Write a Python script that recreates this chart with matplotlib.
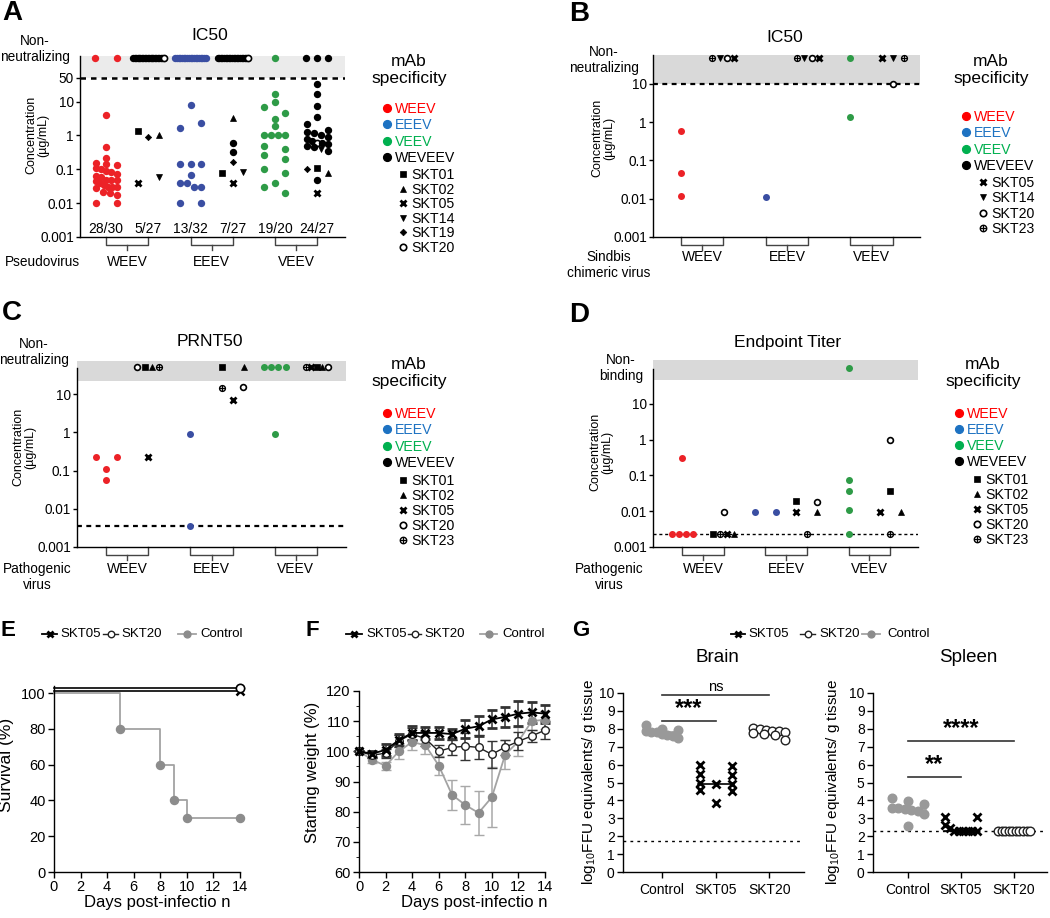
import numpy as np
import matplotlib
matplotlib.use("Agg")
import matplotlib.pyplot as plt
import matplotlib.transforms as mtransforms
from matplotlib.ticker import NullLocator, MultipleLocator

plt.rcParams['font.family'] = ['Liberation Sans', 'DejaVu Sans']
plt.rcParams['mathtext.fontset'] = 'custom'
plt.rcParams['mathtext.rm'] = 'Liberation Sans'
plt.rcParams['mathtext.it'] = 'Liberation Sans:italic'
plt.rcParams['axes.linewidth'] = 1.0
plt.rcParams['xtick.major.width'] = 1.0
plt.rcParams['ytick.major.width'] = 1.0

# ---------------- data ----------------
# concentration panels: 6 columns = WEEV-specific, WEVEEV on WEEV, EEEV-specific,
# WEVEEV on EEEV, VEEV-specific, WEVEEV on VEEV
GROUPS = ['WEEV', 'EEEV', 'VEEV']

# A: pseudovirus IC50 (ug/mL); top = non-neutralizing
A_VALS = [
    [4, 0.45, 0.21, 0.15, 0.14, 0.13, 0.11, 0.1, 0.09, 0.085, 0.075, 0.065, 0.06, 0.05,
     0.05, 0.048, 0.045, 0.04, 0.035, 0.03, 0.03, 0.03, 0.028, 0.022, 0.02, 0.018, 0.01, 0.01],
    [1.4, 0.93, 1.0, 0.04, 0.06],
    [8, 1.7, 2.4, 0.14, 0.14, 0.14, 0.07, 0.04, 0.04, 0.03, 0.03, 0.01, 0.01],
    [3.2, 0.6, 0.33, 0.17, 0.08, 0.085, 0.04],
    [17, 9.5, 7, 4.7, 3, 1.9, 1, 1, 1, 1, 0.5, 0.4, 0.27, 0.2, 0.1, 0.08, 0.04, 0.03, 0.02],
    [34, 17, 7.6, 3.5, 2.2, 1.5, 1.3, 1.2, 1.0, 0.9, 0.8, 0.7, 0.6, 0.6, 0.55, 0.5, 0.45,
     0.4, 0.35, 0.1, 0.11, 0.08, 0.05, 0.02],
]
A_IDS = [
    'WEEV',
    ['SKT01', 'SKT19', 'SKT02', 'SKT05', 'SKT14'],
    'EEEV',
    ['SKT02', 'WEVEEV', 'WEVEEV', 'SKT19', 'SKT01', 'SKT14', 'SKT05'],
    'VEEV',
    ['WEVEEV'] * 12 + ['SKT20'] + ['WEVEEV'] * 4 + ['SKT14', 'WEVEEV', 'SKT19', 'SKT01', 'SKT02', 'WEVEEV', 'SKT05'],
]
A_TOP = [['WEEV'] * 2, ['WEVEEV'] * 21 + ['SKT20'], ['EEEV'] * 19,
         ['WEVEEV'] * 19 + ['SKT20'], ['VEEV'], ['WEVEEV'] * 3]
A_COUNTS = ['28/30', '5/27', '13/32', '7/27', '19/20', '24/27']

# B: Sindbis chimeric virus IC50
B_VALS = [[0.6, 0.047, 0.012], [], [0.011], [], [1.4], [10]]
B_IDS = ['WEEV', [], 'EEEV', [], 'VEEV', ['SKT20']]
B_TOP = [[], ['SKT23', 'SKT14', 'SKT20', 'SKT05'], [], ['SKT23', 'SKT14', 'SKT20', 'SKT05'],
         ['VEEV'], ['SKT05', 'SKT14', 'SKT23']]

# C: PRNT50
C_VALS = [[0.23, 0.23, 0.11, 0.057], [0.23], [0.92, 0.0036], [14.4, 15, 7.1], [0.92], []]
C_IDS = ['WEEV', ['SKT05'], 'EEEV', ['SKT23', 'SKT20', 'SKT05'], 'VEEV', []]
C_TOP = [[], ['SKT20', 'SKT01', 'SKT02', 'SKT23'], [], ['SKT01', 'SKT02'], ['VEEV'] * 4,
         ['SKT23', 'SKT05', 'SKT01', 'SKT02', 'SKT20']]

# D: endpoint titer
D_VALS = [[0.31, 0.0023, 0.0023, 0.0023, 0.0023], [0.0023, 0.0023, 0.0023, 0.0023, 0.0096],
          [0.0096, 0.0096], [0.019, 0.018, 0.0096, 0.0096, 0.0023],
          [0.076, 0.037, 0.0105, 0.0023], [0.98, 0.037, 0.0096, 0.0096, 0.0023]]
D_IDS = ['WEEV', ['SKT01', 'SKT23', 'SKT05', 'SKT02', 'SKT20'], 'EEEV',
         ['SKT01', 'SKT20', 'SKT05', 'SKT02', 'SKT23'], 'VEEV',
         ['SKT20', 'SKT01', 'SKT05', 'SKT02', 'SKT23']]
D_TOP = [[], [], [], [], ['VEEV'], []]

# E: survival
SURV_DAYS = [0, 5, 8, 9, 10, 14]
SURV_CTRL = [100, 80, 60, 40, 30, 30]
SURV_TREATED_DAYS = [0, 14]
SURV_TREATED = [100, 100]

# F: weight
DAYS = list(range(15))
W_SKT05 = [100, 99.2, 100.5, 103.7, 106.1, 106.1, 106.1, 105.7, 107.5, 108.3, 110.6, 111.4, 112.5, 112.9, 112.5]
W_SKT05_ERR = [0, 1, 2, 2, 2.3, 2, 2, 1.7, 3, 3.3, 3, 3.4, 4.2, 3.6, 3]
W_SKT20 = [100, 98.7, 99.4, 103.5, 105.7, 104.2, 100, 101.3, 101.7, 101.3, 99, 101.4, 103.3, 105.1, 107]
W_SKT20_ERR = [0, 1, 1.5, 2, 2, 2.5, 2, 2.5, 4.5, 4, 4.5, 2.5, 3, 2, 3]
W_CTRL = [100, 97.2, 95.2, 100, 103.1, 102, 95.3, 85.6, 82.2, 79.6, 84.8, 98.9, 103.3, 110, 110.5]
W_CTRL_ERR = [0, 1, 1.4, 2.5, 2.5, 3, 3, 5, 6.4, 7.2, 10, 4.7, 4.9, 3, 3]

# G: viral burden (log10 FFU equivalents / g tissue)
G_GROUPS = ['Control', 'SKT05', 'SKT20']
BRAIN = [[8.2, 8.0, 7.95, 7.85, 7.8, 7.8, 7.7, 7.65, 7.6, 7.5],
         [6.0, 5.9, 5.5, 5.4, 4.95, 4.9, 4.9, 4.6, 4.5, 3.85],
         [8.05, 8.0, 7.95, 7.9, 7.85, 7.8, 7.75, 7.7, 7.65, 7.4]]
SPLEEN = [[4.15, 3.95, 3.8, 3.6, 3.55, 3.5, 3.45, 3.4, 3.25, 2.55],
          [3.1, 3.1, 2.65, 2.45, 2.3, 2.3, 2.3, 2.3, 2.3, 2.3],
          [2.3] * 10]
BRAIN_LOD, SPLEEN_LOD = 1.72, 2.3

# ---------------- styles ----------------
RED, BLUE, GREEN = '#ec2227', '#3a4ea2', '#2e9b47'
LEG_COL = {'WEEV': '#ff0000', 'EEEV': '#1d72c2', 'VEEV': '#00b04f', 'WEVEEV': 'black'}
STYLE = {
    'WEEV': dict(marker='o', mfc=RED, mec='none', ms=5.3),
    'EEEV': dict(marker='o', mfc=BLUE, mec='none', ms=5.3),
    'VEEV': dict(marker='o', mfc=GREEN, mec='none', ms=5.3),
    'WEVEEV': dict(marker='o', mfc='k', mec='none', ms=5.3),
    'SKT01': dict(marker='s', mfc='k', mec='k', ms=4.0, mew=0.5),
    'SKT02': dict(marker='^', mfc='k', mec='k', ms=4.6, mew=0.5),
    'SKT05': dict(marker='x', mfc='k', mec='k', ms=4.6, mew=2.0),
    'SKT14': dict(marker='v', mfc='k', mec='k', ms=4.6, mew=0.5),
    'SKT19': dict(marker='D', mfc='k', mec='k', ms=3.2, mew=0.5),
    'SKT20': dict(marker='o', mfc='white', mec='k', ms=4.4, mew=1.2),
    'SKT23': dict(marker='o', mfc='white', mec='k', ms=4.4, mew=1.0),
}
SERIES = {
    'SKT05': dict(color='k', lw=1.3, marker='x', ms=5.5, mew=2.0, mfc='k', mec='k'),
    'SKT20': dict(color='#222222', lw=1.0, marker='o', ms=5.5, mfc='white', mec='#222222', mew=1.0),
    'Control': dict(color='#a3a3a3', lw=1.3, marker='o', ms=5.8, mfc='#8c8c8c', mec='#8c8c8c'),
}

W, H = 1050, 918
fig = plt.figure(figsize=(W / 100, H / 100), dpi=100)


def add_ax(l, t, r, b):
    return fig.add_axes([l / W, 1 - b / H, (r - l) / W, (b - t) / H])


def swarm(ax, x0, vals, dmin, maxw):
    # row-wise scatter layout (points closer than dmin px vertically share a row)
    v = np.asarray(vals, float)
    n = len(v)
    ypx = ax.transData.transform(np.column_stack([np.full(n, float(x0)), v]))[:, 1]
    per = ax.transData.transform((1, 0))[0] - ax.transData.transform((0, 0))[0]
    order = np.argsort(ypx, kind='stable')
    offs = np.zeros(n)
    i = 0
    while i < n:
        j = i
        while j + 1 < n and ypx[order[j + 1]] - ypx[order[i]] < dmin:
            j += 1
        row = sorted(order[i:j + 1])
        if len(row) > 1:
            offs[row] = np.linspace(-maxw, maxw, len(row))
        i = j + 1
    return x0 + offs / per


def put(ax, xs, ys, mid, scale=1.0, **over):
    st = dict(STYLE[mid])
    st.update(over)
    st['ms'] = st['ms'] * scale
    ax.plot(xs, ys, linestyle='none', clip_on=False, zorder=3, **st)
    if mid == 'SKT23':
        ax.plot(xs, ys, linestyle='none', marker='+', color='k', ms=st['ms'], mew=0.9,
                clip_on=False, zorder=4)


def conc_panel(box, xlim, ylim, ticks, tlabels, vals, ids, tops, top_val, shade_lo,
               shade_col, dash_val, dash_lw=1.6, spine_top=None, scale=1.0,
               dmin=6.5, maxw=10.5, lab_dy=23):
    ax = add_ax(*box)
    ax.set_yscale('log')
    ax.set_xlim(xlim)
    ax.set_ylim(ylim)
    for s in ['top', 'right']:
        ax.spines[s].set_visible(False)
    if spine_top:
        ax.spines['left'].set_bounds(ylim[0], spine_top)
    ax.set_xticks([])
    ax.set_yticks(ticks)
    ax.set_yticklabels(tlabels, fontsize=9.8)
    ax.yaxis.set_minor_locator(NullLocator())
    ax.tick_params(axis='y', length=3, pad=1.5)
    ax.axhspan(shade_lo, ylim[1], color=shade_col, lw=0, zorder=0)
    ax.axhline(dash_val, color='k', lw=dash_lw, dashes=(2.2, 2.0), zorder=1)
    for i in range(6):
        x0 = i + 1
        v = vals[i]
        idl = ids[i]
        if isinstance(idl, str):
            idl = [idl] * len(v)
        if len(v):
            xs = swarm(ax, x0, v, dmin, maxw)
            for k in range(len(v)):
                put(ax, [xs[k]], [v[k]], idl[k], scale)
        t = tops[i]
        if len(t):
            half = 0 if len(t) == 1 else (0.26 if len(t) <= 5 else 0.36)
            tx = x0 + np.linspace(-half, half, len(t))
            for k, mid in enumerate(t):
                put(ax, [tx[k]], [top_val], mid, scale)
    hpx = box[3] - box[1]
    tr = ax.get_xaxis_transform()
    for g, name in enumerate(GROUPS):
        a, b = 2 * g + 1, 2 * g + 2
        ax.plot([a, a, b, b], [0, -7.5 / hpx, -7.5 / hpx, 0], color='#444444', lw=1,
                transform=tr, clip_on=False)
        ax.plot([(a + b) / 2] * 2, [-7.5 / hpx, -12.5 / hpx], color='#444444', lw=1,
                transform=tr, clip_on=False)
        ax.text((a + b) / 2, -lab_dy / hpx, name, transform=tr, ha='center', va='center',
                fontsize=10)
    return ax


# ---------------- A ----------------
axA = conc_panel((80, 56, 345, 237), (0.38, 6.66), (0.001, 10 ** 2.349),
                 [0.001, 0.01, 0.1, 1, 10, 50], ['0.001', '0.01', '0.1', '1', '10', '50'],
                 A_VALS, A_IDS, A_TOP, 195, 50, '#ebebeb', 50, dash_lw=1.8, lab_dy=25)
for i, c in enumerate(A_COUNTS):
    axA.text(i + 1, 8 / 181, c, transform=axA.get_xaxis_transform(), ha='center',
             va='center', fontsize=10)

# ---------------- B ----------------
axB = conc_panel((653, 55, 920, 237), (0.34, 6.64), (0.001, 10 ** 1.758),
                 [0.001, 0.01, 0.1, 1, 10], ['0.001', '0.01', '0.1', '1', '10'],
                 B_VALS, B_IDS, B_TOP, 48, 10, '#d9d9d9', 10, scale=0.95, lab_dy=20)

# ---------------- C ----------------
axC = conc_panel((77, 361, 346, 547), (0.31, 6.69), (0.001, 10 ** 1.863),
                 [0.001, 0.01, 0.1, 1, 10], ['0.001', '0.01', '0.1', '1', '10'],
                 C_VALS, C_IDS, C_TOP, 51, 22, '#d9d9d9', 0.0036, spine_top=48,
                 scale=0.95, lab_dy=22)

# ---------------- D ----------------
axD = conc_panel((653, 360, 918, 547), (0.30, 6.67), (0.001, 10 ** 2.23),
                 [0.001, 0.01, 0.1, 1, 10], ['0.001', '0.01', '0.1', '1', '10'],
                 D_VALS, D_IDS, D_TOP, 100, 47, '#d9d9d9', 0.0023, dash_lw=1.0,
                 spine_top=96, scale=0.95, lab_dy=22)

# ---------------- E ----------------
axE = add_ax(54, 686, 240, 872)
axE.set_xlim(0, 14)
axE.set_ylim(0, 104)
axE.plot(SURV_DAYS, SURV_CTRL, drawstyle='steps-post', color=SERIES['Control']['color'],
         lw=1.3, clip_on=False, zorder=2)
axE.plot(SURV_DAYS[1:], SURV_CTRL[1:], linestyle='none', marker='o', ms=5.8,
         color='#8c8c8c', clip_on=False, zorder=3)
for name, dy in [('SKT05', 2), ('SKT20', 5)]:
    tr = mtransforms.offset_copy(axE.transData, fig=fig, x=0, y=dy, units='dots')
    st = SERIES[name]
    axE.plot(SURV_TREATED_DAYS, SURV_TREATED, color='k', lw=1.2, transform=tr,
             clip_on=False, zorder=3)
    axE.plot(SURV_TREATED_DAYS[-1:], SURV_TREATED[-1:], linestyle='none', marker=st['marker'],
             ms=6, mew=1.8 if name == 'SKT05' else 1.2, mfc=st['mfc'], mec='k',
             transform=tr, clip_on=False, zorder=4)
axE.set_xticks(range(0, 15, 2))
axE.set_yticks(range(0, 101, 20))

# ---------------- F ----------------
axF = add_ax(359, 691, 545, 872)
axF.set_xlim(0, 14)
axF.set_ylim(60, 120)
for name, m, e in [('Control', W_CTRL, W_CTRL_ERR), ('SKT20', W_SKT20, W_SKT20_ERR),
                   ('SKT05', W_SKT05, W_SKT05_ERR)]:
    st = SERIES[name]
    ecol = '#a8a8a8' if name == 'Control' else '#333333'
    axF.errorbar(DAYS, m, yerr=e, color=st['color'], lw=st['lw'], marker=st['marker'],
                 ms=st['ms'], mfc=st['mfc'], mec=st['mec'], mew=st.get('mew', 1),
                 ecolor=ecol, elinewidth=1.1, capsize=3.5, capthick=1.1, clip_on=False)
axF.set_xticks(range(0, 15, 2))
axF.set_yticks(range(60, 121, 10))
axF.yaxis.set_minor_locator(MultipleLocator(5))

for ax in (axE, axF):
    for s in ['top', 'right']:
        ax.spines[s].set_visible(False)
    ax.tick_params(labelsize=10.5, length=4, pad=2)
    ax.tick_params(which='minor', length=2.5)

# ---------------- G ----------------
def burden(box, xlim, data, lod, sig):
    ax = add_ax(*box)
    ax.set_xlim(xlim)
    ax.set_ylim(0, 10)
    for s in ['top', 'right']:
        ax.spines[s].set_visible(False)
    ax.set_yticks(range(0, 11))
    ax.set_xticks(range(3))
    ax.set_xticklabels(G_GROUPS)
    ax.tick_params(labelsize=10, length=4, pad=4)
    ax.tick_params(axis='y', labelsize=10, pad=2)
    ax.axhline(lod, color='k', lw=1, dashes=(2, 3), zorder=1)
    for i, name in enumerate(G_GROUPS):
        xs = swarm(ax, i, data[i], 7, 16)
        st = SERIES[name]
        med = np.median(data[i])
        ax.plot([i - 0.33, i + 0.33], [med, med], color=st['color'] if name != 'SKT20' else 'k',
                lw=1.2, zorder=2)
        ax.plot(xs, data[i], linestyle='none', marker=st['marker'], ms=6.2,
                mfc=st['mfc'] if name != 'Control' else '#999999',
                mec=st['mec'] if name != 'Control' else '#999999',
                mew=2.0 if name == 'SKT05' else 1.0, clip_on=False, zorder=3)
    for x1, y, label, fs, bold in sig:
        ax.plot([0, x1], [y, y], color='#333333', lw=1.2)
        ax.text(x1 / 2, y + 0.05, label, ha='center', va='bottom', fontsize=fs,
                fontweight='bold' if bold else 'normal')
    return ax


axG1 = burden((623, 693, 804, 872), (-0.73, 2.65), BRAIN, BRAIN_LOD,
              [(2, 9.9, 'ns', 10.5, False), (1, 8.45, '***', 17, True)])
axG2 = burden((873, 693, 1047, 872), (-0.66, 2.62), SPLEEN, SPLEEN_LOD,
              [(2, 7.3, '****', 17, True), (1, 5.3, '**', 17, True)])

# ---------------- overlay: text, legends ----------------
ov = fig.add_axes([0, 0, 1, 1], zorder=10)
ov.set_xlim(0, W)
ov.set_ylim(H, 0)
ov.axis('off')


def t(x, y, s, **kw):
    kw.setdefault('ha', 'center')
    kw.setdefault('va', 'center')
    ov.text(x, y, s, **kw)


for letter, x, y, fs in [('A', 12, 13, 20), ('B', 579, 14, 20), ('C', 12, 313, 20),
                         ('D', 579, 315, 20), ('E', 8, 631, 16), ('F', 312, 631, 16),
                         ('G', 581, 631, 16)]:
    t(x, y, letter, fontsize=fs, fontweight='bold')

t(210, 35, 'IC50', fontsize=12.5)
t(785, 38, 'IC50', fontsize=12.5)
t(210, 342, 'PRNT50', fontsize=12.5)
t(788, 342, 'Endpoint Titer', fontsize=12.5)

t(35, 49, 'Non-\nneutralizing', fontsize=9.8, linespacing=1.2)
t(604, 60, 'Non-\nneutralizing', fontsize=9.8, linespacing=1.2)
t(34, 352, 'Non-\nneutralizing', fontsize=9.8, linespacing=1.2)
t(621, 368, 'Non-\nbinding', fontsize=9.8, linespacing=1.2)

for x, y in [(37, 135), (603, 138), (24, 447), (601, 452)]:
    t(x, y, 'Concentration\n(µg/mL)', fontsize=9, rotation=90, linespacing=1.0)

t(42, 262, 'Pseudovirus', fontsize=9.8)
t(609, 265, 'Sindbis\nchimeric virus', fontsize=9.8, linespacing=1.1)
t(37, 577, 'Pathogenic\nvirus', fontsize=9.8, linespacing=1.1)
t(609, 577, 'Pathogenic\nvirus', fontsize=9.8, linespacing=1.1)


def conc_legend(tx, ty, cx, cy0, cstep, sx, sy0, sstep, specials):
    t(tx, ty, 'mAb\nspecificity', fontsize=12.5, linespacing=1.15)
    for k, name in enumerate(['WEEV', 'EEEV', 'VEEV', 'WEVEEV']):
        y = cy0 + k * cstep
        ov.plot([cx], [y], linestyle='none', marker='o', ms=5.6, color=LEG_COL[name])
        t(cx + 8, y + 1, name, color=LEG_COL[name], fontsize=10.2, ha='left')
    for k, name in enumerate(specials):
        y = sy0 + k * sstep
        put(ov, [sx], [y], name, 1.05)
        t(sx + 8, y + 1, name, fontsize=10.2, ha='left')


conc_legend(409, 70, 387, 108, 16.3, 403, 174, 14.6,
            ['SKT01', 'SKT02', 'SKT05', 'SKT14', 'SKT19', 'SKT20'])
conc_legend(991, 70, 966, 116, 16.3, 983, 182, 15.3, ['SKT05', 'SKT14', 'SKT20', 'SKT23'])
conc_legend(409, 373, 387, 413, 16.3, 403, 480, 15, ['SKT01', 'SKT02', 'SKT05', 'SKT20', 'SKT23'])
conc_legend(983, 373, 959, 413, 16, 977, 479, 15, ['SKT01', 'SKT02', 'SKT05', 'SKT20', 'SKT23'])


def series_legend(items, y=634):
    for x0, x1, xt, name in items:
        st = SERIES[name]
        ov.plot([x0, x1], [y, y], color=st['color'], lw=st['lw'])
        ov.plot([(x0 + x1) / 2], [y], linestyle='none', marker=st['marker'], ms=st['ms'] * 0.85,
                mfc=st['mfc'], mec=st['mec'], mew=st.get('mew', 1))
        t(xt, y, name, fontsize=9.5, ha='left')


series_legend([(42, 57, 60, 'SKT05'), (103, 118, 121, 'SKT20'), (178, 196, 200, 'Control')])
series_legend([(346, 362, 366, 'SKT05'), (408, 421, 424, 'SKT20'), (480, 497, 502, 'Control')])
series_legend([(731, 745, 748, 'SKT05'), (800, 815, 819, 'SKT20'), (862, 880, 887, 'Control')])

t(157, 902, 'Days post-infectio n', fontsize=12)
t(474, 902, 'Days post-infectio n', fontsize=12)
t(7, 765, 'Survival (%)', fontsize=12.5, rotation=90)
t(312, 772, 'Starting weight (%)', fontsize=12, rotation=90)
t(589, 782, r'log$_{10}$FFU equivalents/ g tissue', fontsize=11, rotation=90)
t(833, 782, r'log$_{10}$FFU equivalents/ g tissue', fontsize=11, rotation=90)
t(717, 658, 'Brain', fontsize=13.5)
t(968, 658, 'Spleen', fontsize=13.5)

fig.savefig('out.png', dpi=100)
